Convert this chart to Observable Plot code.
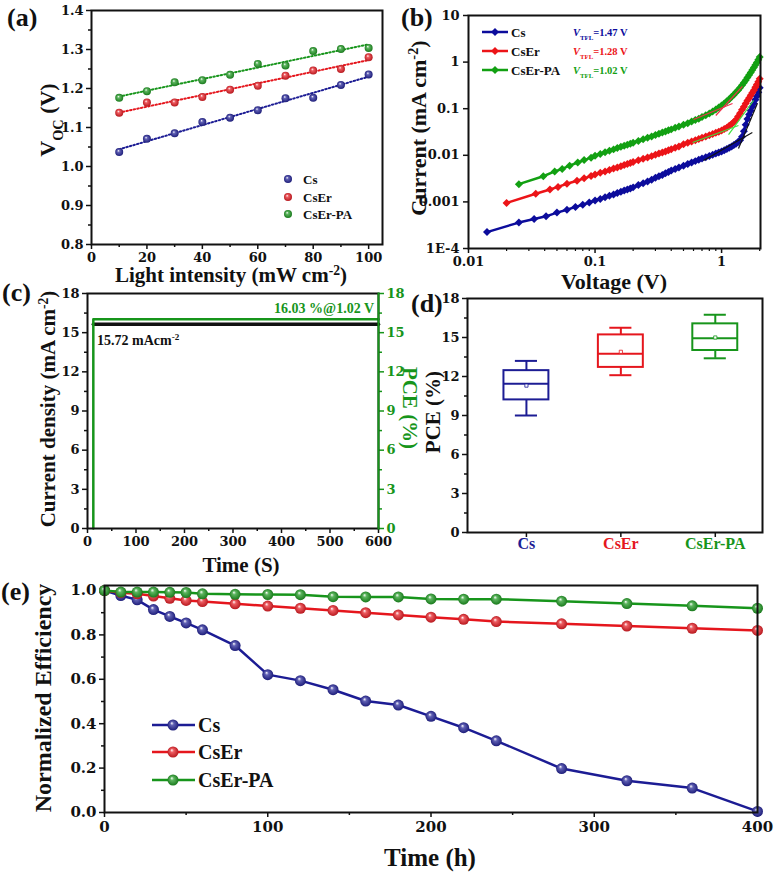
<!DOCTYPE html>
<html><head><meta charset="utf-8">
<script src="https://cdn.jsdelivr.net/npm/d3@7"></script>
<script src="https://cdn.jsdelivr.net/npm/@observablehq/plot@0.6"></script>
<style>
body{margin:0;background:#fff}
#wrap{position:relative;width:776px;height:872px;overflow:hidden;background:#fff}
</style></head><body><div id="wrap"></div>
<script>
// ---------- DATA ----------
const series = ["Cs", "CsEr", "CsEr-PA"];
// (a) Voc vs light intensity
const intensity = [10, 20, 30, 40, 50, 60, 70, 80, 90, 100];
const vocCs   = [1.037, 1.071, 1.085, 1.114, 1.125, 1.144, 1.175, 1.176, 1.209, 1.236];
const vocCsEr = [1.138, 1.164, 1.164, 1.178, 1.197, 1.207, 1.233, 1.246, 1.250, 1.280];
const vocPA   = [1.176, 1.193, 1.216, 1.221, 1.235, 1.263, 1.259, 1.296, 1.301, 1.304];
const xTicksA = [0, 20, 40, 60, 80, 100];
const yTicksA = [0.8, 0.9, 1.0, 1.1, 1.2, 1.3, 1.4];

// (b) SCLC dark current (log-log)
const vTail = [0.1,0.11,0.12,0.13,0.14,0.15,0.16,0.17,0.18,0.19,0.2,0.22,0.24,0.26,0.28,0.3,0.32,0.34,0.36,0.38,0.4,0.43,0.46,0.5,0.54,0.58,0.62,0.66,0.7,0.75,0.8,0.85,0.9,0.95,1.0,1.05,1.1,1.15,1.2,1.25,1.3,1.35,1.4,1.45,1.5,1.55,1.6,1.65,1.7,1.75,1.8,1.85,1.9,1.95,2.0];
const vCs = [0.014,0.025,0.033,0.041,0.05,0.06,0.07,0.08,0.09, ...vTail];
const iCs = [2.25e-4,3.6e-4,4.3e-4,4.9e-4,5.9e-4,6.8e-4,7.8e-4,8.7e-4,9.7e-4,
  1.07e-3,1.16e-3,1.26e-3,1.36e-3,1.45e-3,1.55e-3,1.65e-3,1.75e-3,1.85e-3,1.95e-3,2.05e-3,2.3e-3,2.5e-3,2.75e-3,3.0e-3,3.3e-3,3.55e-3,3.8e-3,4.1e-3,4.4e-3,4.7e-3,5.1e-3,5.5e-3,6.0e-3,6.5e-3,7.0e-3,7.5e-3,8.0e-3,8.5e-3,9.1e-3,9.7e-3,0.0103,0.0109,0.0115,0.0121,0.0128,0.0136,0.0145,0.0155,0.0166,0.0178,0.0192,0.021,0.025,0.033,0.045,0.06,0.075,0.09,0.11,0.13,0.155,0.185,0.225,0.28];
const vEr = [0.02,0.034,0.044,0.051,0.06,0.072,0.082,0.093, ...vTail];
const iEr = [9.5e-4,1.5e-3,1.85e-3,2.1e-3,2.45e-3,2.85e-3,3.2e-3,3.6e-3,
  3.85e-3,4.2e-3,4.5e-3,4.85e-3,5.2e-3,5.5e-3,5.85e-3,6.2e-3,6.5e-3,6.85e-3,7.2e-3,7.8e-3,8.4e-3,9.0e-3,9.6e-3,0.0103,0.0109,0.0115,0.0121,0.0128,0.0135,0.0145,0.0155,0.0172,0.0185,0.0198,0.021,0.0223,0.0237,0.0253,0.027,0.0288,0.0305,0.0322,0.034,0.0365,0.039,0.043,0.047,0.052,0.058,0.068,0.08,0.095,0.11,0.13,0.15,0.17,0.195,0.22,0.25,0.29,0.33,0.38,0.44];
const vPA = [0.025,0.039,0.048,0.055,0.063,0.073,0.082,0.093, ...vTail];
const iPA = [2.4e-3,3.55e-3,4.5e-3,5.1e-3,6.0e-3,7.0e-3,7.9e-3,8.9e-3,
  9.8e-3,0.0107,0.0116,0.0125,0.0134,0.0143,0.0152,0.016,0.0168,0.0177,0.0186,0.0203,0.022,0.0237,0.0254,0.0272,0.029,0.0307,0.0325,0.0343,0.036,0.0388,0.0415,0.045,0.049,0.053,0.057,0.061,0.066,0.072,0.079,0.087,0.096,0.106,0.117,0.13,0.145,0.16,0.18,0.2,0.225,0.25,0.28,0.32,0.36,0.41,0.47,0.53,0.6,0.68,0.77,0.87,0.98,1.12,1.28];
// tangent fits (V1, I1, V2, I2)
const tanOnPA = [[0.60,0.0586,1.22,0.129],[0.90,0.0714,1.46,0.30]];
const tanOnEr = [[0.59,0.0188,1.36,0.0436],[1.135,0.0279,1.79,0.15]];
const tanOnCs = [[0.72,0.0077,1.75,0.031],[1.36,0.014,1.92,0.13]];
const vtfl = ["1.47 V", "1.28 V", "1.02 V"];
const xTicksB = [0.01, 0.1, 1];
const xLabB = ["0.01", "0.1", "1"];
const yTicksB = [1e-4, 1e-3, 1e-2, 0.1, 1, 10];
const yLabB = ["1E-4", "0.001", "0.01", "0.1", "1", "10"];

// (c) steady-state output
const tJ = [12, 600];
const jsc = [15.65, 15.65];
const tP = [12, 12, 600];
const pceT = [0, 16.03, 16.03];
const ticksC = [0, 3, 6, 9, 12, 15, 18];
const xTicksC = [0, 100, 200, 300, 400, 500, 600];

// (d) PCE statistics
const whLo = [9.0, 12.1, 13.4];
const q1 = [10.2, 12.7, 14.0];
const med = [11.45, 13.75, 14.95];
const q3 = [12.45, 15.2, 16.05];
const whHi = [13.2, 15.75, 16.75];
const meanD = [11.3, 13.9, 15.0];

// (e) stability
const tE = [0,10,20,30,40,50,60,80,100,120,140,160,180,200,220,240,280,320,360,400];
const effCs = [1.0,0.977,0.958,0.914,0.883,0.854,0.823,0.752,0.621,0.594,0.553,0.502,0.484,0.433,0.382,0.323,0.198,0.143,0.11,0.005];
const effEr = [1.0,0.99,0.985,0.975,0.965,0.955,0.95,0.94,0.93,0.92,0.91,0.90,0.89,0.88,0.87,0.86,0.85,0.84,0.83,0.82];
const effPA = [1.0,0.993,0.993,0.993,0.992,0.991,0.985,0.983,0.982,0.981,0.972,0.971,0.971,0.962,0.961,0.961,0.952,0.941,0.931,0.92];
const xTicksE = [0, 100, 200, 300, 400];
const yTicksE = [0, 0.2, 0.4, 0.6, 0.8, 1.0];

// ---------- STYLE ----------
const COL = ["#1c1c94", "#e5161d", "#17951b"];
const COLB = ["#0c0c9c", "#ec1418", "#12a012"];
const GR = ["url(#gCs)", "url(#gEr)", "url(#gPA)"];
const TICK = "DejaVu Serif";
const TITLE = "Liberation Serif";
const wrap = document.getElementById("wrap");

// gradient defs for shaded spheres
const defsSvg = d3.create("svg").attr("width", 0).attr("height", 0).style("position", "absolute");
const defs = defsSvg.append("defs");
[["gCs", COL[0]], ["gEr", COL[1]], ["gPA", COL[2]]].forEach(([id, c]) => {
  const g = defs.append("radialGradient").attr("id", id).attr("cx", "50%").attr("cy", "50%").attr("r", "55%").attr("fx", "38%").attr("fy", "32%");
  g.append("stop").attr("offset", "0%").attr("stop-color", "#ffffff");
  g.append("stop").attr("offset", "30%").attr("stop-color", d3.interpolateRgb(c, "#fff")(0.3));
  g.append("stop").attr("offset", "100%").attr("stop-color", d3.color(c).darker(0.7).formatHex());
});
wrap.appendChild(defsSvg.node());

const base = (size) => ({background: "transparent", overflow: "visible", fontFamily: TICK, fontWeight: "bold", fontSize: size + "px", color: "#111"});
function place(svg, left, top) {
  svg.style.position = "absolute"; svg.style.left = left + "px"; svg.style.top = top + "px"; svg.style.maxWidth = "none";
  wrap.appendChild(svg);
}
const minor = (lo, hi, step) => d3.range(lo, hi + 1e-9, step);

// ---------- (a) ----------
const A = [vocCs, vocCsEr, vocPA].map((v, k) => intensity.map((x, i) => ({x, y: v[i]})));
place(Plot.plot({
  width: 390, height: 290, marginLeft: 91, marginRight: 8, marginTop: 10, marginBottom: 46,
  style: base(13),
  x: {domain: [0, 105], label: null}, y: {domain: [0.8, 1.4], label: null},
  marks: [
    Plot.axisX(xTicksA, {tickSize: 5, tickPadding: 3, strokeWidth: 1.5, label: null}),
    Plot.axisX(minor(10, 90, 20), {tickSize: 3, strokeWidth: 1.5, fill: "none", label: null}),
    Plot.axisY(yTicksA, {tickSize: 5, tickPadding: 3, strokeWidth: 1.5, label: null, tickFormat: d3.format(".1f")}),
    Plot.axisY(minor(0.85, 1.35, 0.1), {tickSize: 3, strokeWidth: 1.5, fill: "none", label: null}),
    ...A.map((rows, k) => Plot.linearRegressionY(rows, {x: "x", y: "y", stroke: COL[k], strokeWidth: 2, strokeDasharray: "1.5,2.2", ci: 0})),
    ...A.map((rows, k) => Plot.dot(rows, {x: "x", y: "y", r: 4, fill: GR[k], stroke: null})),
    Plot.frame({stroke: "#111", strokeWidth: 2})
  ]
}), 0, 0);

// ---------- (b) ----------
const B = [[vCs, iCs], [vEr, iEr], [vPA, iPA]].map(([v, c]) => v.map((x, i) => ({x, y: c[i]})));
const tanRows = (arr) => arr.map(([x1, y1, x2, y2]) => ({x1, y1, x2, y2}));
place(Plot.plot({
  width: 386, height: 300, marginLeft: 78, marginRight: 16, marginTop: 15, marginBottom: 52,
  style: base(13),
  x: {type: "log", domain: [0.01, 2.03], label: null}, y: {type: "log", domain: [1e-4, 10], label: null},
  marks: [
    Plot.axisX(xTicksB, {tickSize: 5, tickPadding: 3, strokeWidth: 1.5, label: null, tickFormat: d => xLabB[xTicksB.indexOf(d)]}),
    Plot.axisX([...minor(0.02, 0.09, 0.01), ...minor(0.2, 0.9, 0.1), 2], {tickSize: 3, strokeWidth: 1.2, fill: "none", label: null}),
    Plot.axisY(yTicksB, {tickSize: 5, tickPadding: 4, strokeWidth: 1.5, label: null, tickFormat: d => yLabB[yTicksB.indexOf(d)]}),
    ...B.map((rows, k) => Plot.line(rows, {x: "x", y: "y", stroke: COLB[k], strokeWidth: 2.5})),
    ...B.map((rows, k) => Plot.dot(rows, {x: "x", y: "y", symbol: "diamond2", r: 3.6, fill: COLB[k], stroke: null})),
    Plot.link(tanRows(tanOnPA), {x1: "x1", y1: "y1", x2: "x2", y2: "y2", stroke: "#f0304a", strokeWidth: 1.2}),
    Plot.link(tanRows(tanOnEr), {x1: "x1", y1: "y1", x2: "x2", y2: "y2", stroke: "#3ee03e", strokeWidth: 1.2}),
    Plot.link(tanRows(tanOnCs), {x1: "x1", y1: "y1", x2: "x2", y2: "y2", stroke: "#111", strokeWidth: 1.2}),
    Plot.frame({stroke: "#111", strokeWidth: 2})
  ]
}), 390, 0);

// ---------- (c) ----------
const GREEN = "#17951b";
place(Plot.plot({
  width: 425, height: 300, marginLeft: 87, marginRight: 47, marginTop: 23, marginBottom: 42,
  style: base(13),
  x: {domain: [0, 600], label: null}, y: {domain: [0, 18], label: null},
  marks: [
    Plot.axisX(xTicksC, {tickSize: 5, tickPadding: 3, strokeWidth: 1.5, label: null}),
    Plot.axisX(minor(50, 550, 100), {tickSize: 3, strokeWidth: 1.5, fill: "none", label: null}),
    Plot.axisY(ticksC, {tickSize: 5, tickPadding: 3, strokeWidth: 1.5, label: null}),
    Plot.axisY(minor(1.5, 16.5, 3), {tickSize: 3, strokeWidth: 1.5, fill: "none", label: null}),
    Plot.axisY(ticksC, {anchor: "right", color: GREEN, tickSize: 5, tickPadding: 3, strokeWidth: 1.5, label: null}),
    Plot.axisY(minor(1.5, 16.5, 3), {anchor: "right", stroke: GREEN, tickSize: 3, strokeWidth: 1.5, fill: "none", label: null}),
    Plot.line(tJ.map((x, i) => ({x, y: jsc[i]})), {x: "x", y: "y", stroke: "#111", strokeWidth: 3.5}),
    Plot.line(tP.map((x, i) => ({x, y: pceT[i]})), {x: "x", y: "y", stroke: GREEN, strokeWidth: 2.5}),
    Plot.frame({stroke: "#111", strokeWidth: 2}),
    Plot.frame({anchor: "right", stroke: GREEN, strokeWidth: 2})
  ]
}), 0, 270);

// ---------- (d) ----------
const boxes = series.map((c, i) => ({c, i: i + 1, lo: whLo[i], q1: q1[i], med: med[i], q3: q3[i], hi: whHi[i], mean: meanD[i], col: COL[i]}));
const HW = 0.238, CW = 0.117;
place(Plot.plot({
  width: 386, height: 300, marginLeft: 77, marginRight: 14, marginTop: 28, marginBottom: 38,
  style: base(13),
  color: {type: "identity"},
  x: {domain: [0.376, 3.5], label: null}, y: {domain: [0, 18], label: null},
  marks: [
    Plot.axisX([1, 2, 3], {tickSize: 5, strokeWidth: 1.5, fill: "none", label: null}),
    Plot.axisY(ticksC, {tickSize: 5, tickPadding: 3, strokeWidth: 1.5, label: null}),
    Plot.axisY(minor(1.5, 16.5, 3), {tickSize: 3, strokeWidth: 1.5, fill: "none", label: null}),
    Plot.ruleX(boxes, {x: "i", y1: "lo", y2: "q1", stroke: "col", strokeWidth: 2}),
    Plot.ruleX(boxes, {x: "i", y1: "q3", y2: "hi", stroke: "col", strokeWidth: 2}),
    Plot.ruleY(boxes, {y: "lo", x1: d => d.i - CW, x2: d => d.i + CW, stroke: "col", strokeWidth: 2}),
    Plot.ruleY(boxes, {y: "hi", x1: d => d.i - CW, x2: d => d.i + CW, stroke: "col", strokeWidth: 2}),
    Plot.rect(boxes, {x1: d => d.i - HW, x2: d => d.i + HW, y1: "q1", y2: "q3", fill: "none", stroke: "col", strokeWidth: 2}),
    Plot.ruleY(boxes, {y: "med", x1: d => d.i - HW, x2: d => d.i + HW, stroke: "col", strokeWidth: 2}),
    Plot.dot(boxes, {x: "i", y: "mean", symbol: "square", r: 1.8, fill: "white", stroke: "col", strokeWidth: 0.8}),
    Plot.text(boxes, {x: "i", text: "c", fill: "col", frameAnchor: "bottom", dy: 16, fontSize: 16, fontFamily: TITLE, fontWeight: "bold"}),
    Plot.frame({stroke: "#111", strokeWidth: 2})
  ]
}), 390, 270);

// ---------- (e) ----------
const E = [effCs, effEr, effPA].map(v => tE.map((x, i) => ({x, y: v[i]})));
place(Plot.plot({
  width: 776, height: 302, marginLeft: 104, marginRight: 19, marginTop: 15, marginBottom: 60,
  style: base(15),
  x: {domain: [0, 400], label: null}, y: {domain: [0, 1.0225], label: null},
  marks: [
    Plot.axisX(xTicksE, {tickSize: 5, tickPadding: 4, strokeWidth: 1.5, label: null}),
    Plot.axisX(minor(50, 350, 100), {tickSize: 3, strokeWidth: 1.5, fill: "none", label: null}),
    Plot.axisY(yTicksE, {tickSize: 5, tickPadding: 3, strokeWidth: 1.5, label: null, tickFormat: d3.format(".1f")}),
    Plot.axisY(minor(0.1, 0.9, 0.2), {tickSize: 3, strokeWidth: 1.5, fill: "none", label: null}),
    ...E.map((rows, k) => Plot.line(rows, {x: "x", y: "y", stroke: COL[k], strokeWidth: 2.5})),
    ...E.map((rows, k) => Plot.dot(rows, {x: "x", y: "y", r: 5.5, fill: GR[k], stroke: null})),
    Plot.frame({stroke: "#111", strokeWidth: 2})
  ]
}), 0, 570);

// ---------- overlay text / legends ----------
const ov = d3.create("svg").attr("width", 776).attr("height", 872)
  .style("position", "absolute").style("left", "0px").style("top", "0px")
  .attr("font-family", TITLE).attr("font-weight", "bold");
function txt(parts, x, y, {size = 20, rot = 0, anchor = "middle", fill = "#111"} = {}) {
  const t = ov.append("text").attr("transform", `translate(${x},${y}) rotate(${rot})`)
    .attr("text-anchor", anchor).attr("dy", "0.35em").attr("font-size", size).attr("fill", fill);
  for (const p of (typeof parts === "string" ? [parts] : parts)) {
    if (typeof p === "string") t.append("tspan").text(p);
    else {
      const s = t.append("tspan").text(p.t);
      if (p.sub) s.attr("baseline-shift", "sub").attr("font-size", size * 0.65);
      if (p.sup) s.attr("baseline-shift", "super").attr("font-size", size * 0.65);
      if (p.it) s.attr("font-style", "italic");
    }
  }
  return t;
}
// panel letters
txt("(a)", 7, 17, {size: 26, anchor: "start"});
txt("(b)", 401, 17, {size: 26, anchor: "start"});
txt("(c)", 2, 292, {size: 26, anchor: "start"});
txt("(d)", 411, 303, {size: 26, anchor: "start"});
txt("(e)", 1, 591, {size: 26, anchor: "start"});
// axis titles
txt(["V", {t: "OC", sub: true}, " (V)"], 47, 120, {size: 22, rot: -90});
txt(["Light intensity (mW cm", {t: "-2", sup: true}, ")"], 231, 275, {size: 21});
txt(["Current (mA cm", {t: "-2", sup: true}, ")"], 418, 128, {size: 22, rot: -90});
txt("Voltage (V)", 614, 281, {size: 22});
txt(["Current density (mA cm", {t: "-2", sup: true}, ")"], 48, 409, {size: 21, rot: -90});
txt("Time (S)", 241, 565, {size: 21});
txt("PCE (%)", 410, 408, {size: 21, rot: 90, fill: GREEN});
txt("PCE (%)", 433, 412, {size: 21, rot: -90});
txt("Normalized Efficiency", 43, 698, {size: 24, rot: -90});
txt("Time (h)", 430, 857, {size: 25});
// (c) annotations
txt("16.03 %@1.02 V", 374, 308, {size: 14, anchor: "end", fill: GREEN});
txt(["15.72 mAcm", {t: "-2", sup: true}], 97, 340, {size: 14, anchor: "start"});
// (a) legend
[179, 197, 214].forEach((y, k) => {
  ov.append("circle").attr("cx", 288).attr("cy", y).attr("r", 4).attr("fill", GR[k]);
  txt(series[k], 303, y, {size: 13, anchor: "start"});
});
// (b) legend
const diamond = d3.symbol(d3.symbolDiamond2, 40)();
[32, 51, 70].forEach((y, k) => {
  ov.append("line").attr("x1", 482).attr("x2", 508).attr("y1", y).attr("y2", y).attr("stroke", COLB[k]).attr("stroke-width", 2.5);
  ov.append("path").attr("d", diamond).attr("transform", `translate(495,${y})`).attr("fill", COLB[k]);
  txt(series[k], 511, y, {size: 13, anchor: "start"});
  txt([{t: "V", it: true}, {t: "TFL", sub: true}, "=" + vtfl[k]], 573, y, {size: 10.5, anchor: "start", fill: COLB[k]});
});
// (e) legend
[725, 752, 780].forEach((y, k) => {
  ov.append("line").attr("x1", 152).attr("x2", 195).attr("y1", y).attr("y2", y).attr("stroke", COL[k]).attr("stroke-width", 2.5);
  ov.append("circle").attr("cx", 173).attr("cy", y).attr("r", 5.5).attr("fill", GR[k]);
  txt(series[k], 198, y, {size: 20, anchor: "start"});
});
wrap.appendChild(ov.node());
</script></body></html>
